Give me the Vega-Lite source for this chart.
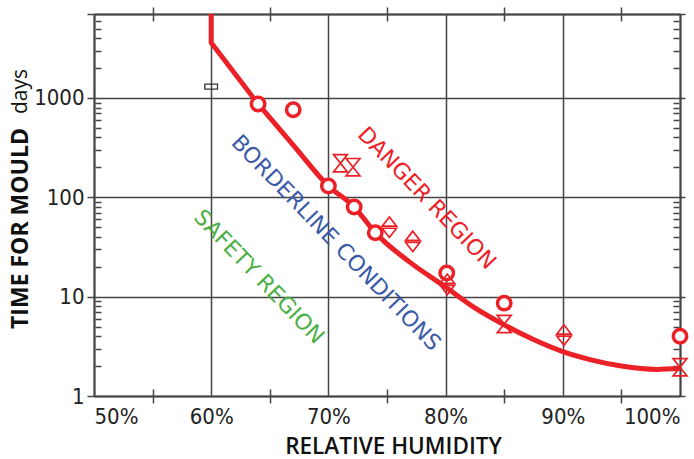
{
  "$schema": "https://vega.github.io/schema/vega-lite/v6.json",
  "width": 586,
  "height": 382,
  "autosize": {"type": "none"},
  "padding": {"left": 94, "top": 14, "right": 14, "bottom": 63},
  "config": {
    "view": {"stroke": null},
    "axis": {
      "domainColor": "#444",
      "tickColor": "#444",
      "gridColor": "#444",
      "gridOpacity": 1,
      "gridWidth": 1.5,
      "tickWidth": 1.5,
      "domainWidth": 2,
      "labelFont": "Liberation Sans Narrow, DejaVu Sans Condensed, sans-serif",
      "labelFontSize": 22,
      "labelColor": "#222",
      "titleColor": "#111"
    }
  },
  "datasets": {
    "curve": [
      {"rh": 60, "days": 7000, "part": "upper"},
      {"rh": 60, "days": 3600, "part": "upper"},
      {"rh": 64, "days": 870, "part": "upper"},
      {"rh": 64, "days": 870, "part": "lower"},
      {"rh": 67, "days": 336, "part": "lower"},
      {"rh": 70, "days": 130, "part": "lower"},
      {"rh": 72.2, "days": 80, "part": "lower"},
      {"rh": 74, "days": 44, "part": "lower"},
      {"rh": 77, "days": 22, "part": "lower"},
      {"rh": 80, "days": 12.5, "part": "lower"},
      {"rh": 82.5, "days": 7.7, "part": "lower"},
      {"rh": 85, "days": 5.2, "part": "lower"},
      {"rh": 87.5, "days": 3.7, "part": "lower"},
      {"rh": 90, "days": 2.8, "part": "lower"},
      {"rh": 92.5, "days": 2.3, "part": "lower"},
      {"rh": 95, "days": 2.0, "part": "lower"},
      {"rh": 98, "days": 1.85, "part": "lower"},
      {"rh": 100, "days": 1.9, "part": "lower"}
    ],
    "circles": [
      {"rh": 64, "days": 870},
      {"rh": 67, "days": 760},
      {"rh": 70, "days": 130},
      {"rh": 72.2, "days": 80},
      {"rh": 74, "days": 44},
      {"rh": 80.1, "days": 17.3},
      {"rh": 85, "days": 8.6},
      {"rh": 100, "days": 4.0}
    ],
    "hourglass": [
      {"rh": 71.03, "days": 220},
      {"rh": 72.1, "days": 201},
      {"rh": 85, "days": 5.3},
      {"rh": 100, "days": 1.95}
    ],
    "split": [
      {"rh": 75.2, "days": 50},
      {"rh": 77.2, "days": 36},
      {"rh": 80.15, "days": 13.3},
      {"rh": 90.1, "days": 4.1}
    ],
    "rects": [
      {"rh": 60, "days": 1300}
    ],
    "labels": [
      {"rh": 78.4, "days": 98, "label": "DANGER REGION", "region": "danger"},
      {"rh": 70.65, "days": 34.7, "label": "BORDERLINE CONDITIONS", "region": "borderline"},
      {"rh": 64.08, "days": 15.8, "label": "SAFETY REGION", "region": "safety"}
    ],
    "unit": [
      {"rh": 44.3, "days": 1160, "label": "days"}
    ]
  },
  "resolve": {"axis": {"x": "independent", "y": "independent"}},
  "layer": [
    {
      "data": {"name": "curve"},
      "transform": [{"filter": "datum.part == 'lower'"}],
      "mark": {"type": "line", "interpolate": "monotone", "color": "#ec2027", "strokeWidth": 5, "strokeCap": "butt"},
      "encoding": {
        "x": {
          "field": "rh", "type": "quantitative",
          "scale": {"domain": [50, 100], "nice": false, "zero": false},
          "axis": {
            "orient": "bottom", "values": [50, 60, 70, 80, 90, 100], "grid": true,
            "ticks": false, "tickSize": 0, "labelPadding": 10,
            "labelExpr": "datum.value + '%'",
            "title": "RELATIVE HUMIDITY", "titleFont": "Open Sans", "titleFontWeight": 600,
            "titleFontSize": 22.5, "titleX": 299, "titleY": 57, "titleBaseline": "alphabetic"
          }
        },
        "y": {
          "field": "days", "type": "quantitative",
          "scale": {"type": "log", "domain": [1, 7000], "nice": false},
          "axis": {
            "orient": "left", "values": [1, 10, 100, 1000, 7000], "grid": true,
            "tickSize": 7, "labelPadding": 3,
            "labelExpr": "datum.value == 7000 ? '' : format(datum.value, 'd')",
            "title": "TIME FOR MOULD", "titleFont": "Open Sans", "titleFontWeight": "bold",
            "titleFontSize": 23, "titleAngle": -90, "titleX": -67, "titleY": 214, "titleBaseline": "alphabetic"
          }
        }
      }
    },
    {
      "data": {"name": "curve"},
      "transform": [{"filter": "datum.part == 'upper'"}],
      "mark": {"type": "line", "interpolate": "linear", "color": "#ec2027", "strokeWidth": 5, "strokeCap": "butt", "strokeJoin": "miter"},
      "encoding": {
        "x": {
          "field": "rh", "type": "quantitative",
          "scale": {"domain": [50, 100], "nice": false, "zero": false},
          "axis": {
            "orient": "bottom", "values": [55, 65, 75, 85, 95], "offset": -7, "tickSize": 14,
            "domain": false, "labels": false, "grid": false, "title": null
          }
        },
        "y": {
          "field": "days", "type": "quantitative",
          "scale": {"type": "log", "domain": [1, 7000], "nice": false},
          "axis": {
            "orient": "left",
            "values": [2, 3, 4, 5, 6, 7, 8, 9, 20, 30, 40, 50, 60, 70, 80, 90, 200, 300, 400, 500, 600, 700, 800, 900, 2000, 3000, 4000, 5000, 6000],
            "offset": -7, "tickSize": 6, "domain": false, "labels": false, "grid": false, "title": null
          }
        }
      }
    },
    {
      "data": {"name": "circles"},
      "mark": {"type": "point", "shape": "circle", "fill": "white", "fillOpacity": 1, "stroke": "#ec2027", "strokeWidth": 3.5, "size": 180, "opacity": 1},
      "encoding": {
        "x": {
          "field": "rh", "type": "quantitative",
          "scale": {"domain": [50, 100], "nice": false, "zero": false},
          "axis": {
            "orient": "top", "values": [], "ticks": false, "labels": false, "grid": false, "title": null
          }
        },
        "y": {
          "field": "days", "type": "quantitative",
          "scale": {"type": "log", "domain": [1, 7000], "nice": false},
          "axis": {
            "orient": "right", "values": [1, 10, 100, 1000, 7000], "tickSize": 5,
            "labels": false, "grid": false, "title": null
          }
        }
      }
    },
    {
      "data": {"name": "hourglass"},
      "mark": {"type": "point", "shape": "M-0.8,-1L0.8,-1L-0.8,1L0.8,1Z", "filled": false, "stroke": "#ec2027", "strokeWidth": 1.7, "size": 300, "opacity": 1},
      "encoding": {
        "x": {
          "field": "rh", "type": "quantitative",
          "scale": {"domain": [50, 100], "nice": false, "zero": false},
          "axis": {
            "orient": "top", "values": [55, 65, 75, 85, 95], "offset": -7, "tickSize": 14,
            "domain": false, "labels": false, "grid": false, "title": null
          }
        },
        "y": {
          "field": "days", "type": "quantitative",
          "scale": {"type": "log", "domain": [1, 7000], "nice": false},
          "axis": {
            "orient": "right",
            "values": [2, 3, 4, 5, 6, 7, 8, 9, 20, 30, 40, 50, 60, 70, 80, 90, 200, 300, 400, 500, 600, 700, 800, 900, 2000, 3000, 4000, 5000, 6000],
            "offset": -7, "tickSize": 6, "domain": false, "labels": false, "grid": false, "title": null
          }
        }
      }
    },
    {
      "data": {"name": "split"},
      "mark": {"type": "point", "shape": "M0,-1L-0.7,-0.1L0.7,-0.1Z M-0.7,0.1L0.7,0.1L0,1Z", "filled": false, "stroke": "#ec2027", "strokeWidth": 1.7, "size": 420, "opacity": 1},
      "encoding": {
        "x": {"field": "rh", "type": "quantitative", "scale": {"domain": [50, 100], "nice": false, "zero": false}, "axis": null},
        "y": {"field": "days", "type": "quantitative", "scale": {"type": "log", "domain": [1, 7000], "nice": false}, "axis": null}
      }
    },
    {
      "data": {"name": "rects"},
      "mark": {"type": "point", "shape": "M-1,-0.4L1,-0.4L1,0.4L-1,0.4Z", "filled": false, "stroke": "#333", "strokeWidth": 1.3, "size": 160, "opacity": 1},
      "encoding": {
        "x": {"field": "rh", "type": "quantitative", "scale": {"domain": [50, 100], "nice": false, "zero": false}, "axis": null},
        "y": {"field": "days", "type": "quantitative", "scale": {"type": "log", "domain": [1, 7000], "nice": false}, "axis": null}
      }
    },
    {
      "data": {"name": "unit"},
      "mark": {"type": "text", "angle": -90, "align": "center", "baseline": "alphabetic", "font": "Open Sans", "fontSize": 21, "color": "#111"},
      "encoding": {
        "x": {"field": "rh", "type": "quantitative", "scale": {"domain": [50, 100], "nice": false, "zero": false}, "axis": null},
        "y": {"field": "days", "type": "quantitative", "scale": {"type": "log", "domain": [1, 7000], "nice": false}, "axis": null},
        "text": {"field": "label"}
      }
    },
    {
      "data": {"name": "labels"},
      "mark": {"type": "text", "angle": 46, "align": "center", "baseline": "middle", "font": "DejaVu Sans", "fontSize": 22},
      "encoding": {
        "x": {"field": "rh", "type": "quantitative", "scale": {"domain": [50, 100], "nice": false, "zero": false}, "axis": null},
        "y": {"field": "days", "type": "quantitative", "scale": {"type": "log", "domain": [1, 7000], "nice": false}, "axis": null},
        "text": {"field": "label"},
        "color": {
          "field": "region", "type": "nominal",
          "scale": {"domain": ["danger", "borderline", "safety"], "range": ["#ec2027", "#3a5aa8", "#4caf45"]},
          "legend": null
        }
      }
    }
  ]
}
